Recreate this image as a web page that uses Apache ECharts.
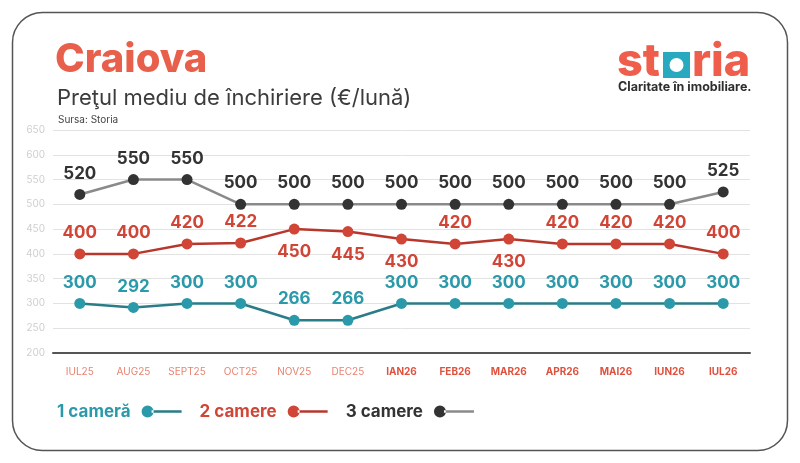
<!DOCTYPE html>
<html><head><meta charset="utf-8">
<script src="https://cdn.jsdelivr.net/npm/echarts@6/dist/echarts.min.js"></script>
<style>html,body{margin:0;padding:0;background:#fff}#c{width:800px;height:463px}</style>
</head><body><div id="c"></div>
<script>
const categories = ['IUL25','AUG25','SEPT25','OCT25','NOV25','DEC25','IAN26','FEB26','MAR26','APR26','MAI26','IUN26','IUL26'];
const cam1 = [300,292,300,300,266,266,300,300,300,300,300,300,300];
const cam2 = [400,400,420,422,450,445,430,420,430,420,420,420,400];
const cam3 = [520,550,550,500,500,500,500,500,500,500,500,500,525];
const seriesNames = ['1 cameră','2 camere','3 camere'];
const yTicks = [200,250,300,350,400,450,500,550,600,650];

const FONT = 'Inter, "Open Sans", sans-serif';
const below2 = new Set([4,5,6,8]);
const chart = echarts.init(document.getElementById('c'));
function grad(a,b){return {type:'linear',x:0,y:0,x2:1,y2:0,colorStops:[{offset:0,color:a},{offset:0.3,color:a},{offset:0.3,color:b},{offset:1,color:b}]};}
const icon = 'path://M0,6A6,6 0 1,0 12,6A6,6 0 1,0 0,6Z M10,4.8L40,4.8L40,7.2L10,7.2Z';
function lbl(color){return {show:true,position:'top',distance:7,color:color,fontFamily:FONT,fontWeight:700,fontSize:17};}
chart.setOption({
  animation:false,
  title:[
    {text:'Craiova',left:50,top:35,textStyle:{color:'#e8604c',fontFamily:FONT,fontWeight:800,fontSize:40}},
    {text:'Preţul mediu de închiriere (€/lună)',left:52,top:82,textStyle:{color:'#3c3c3c',fontFamily:FONT,fontWeight:400,fontSize:22}},
    {text:'Sursa: Storia',left:53,top:110,textStyle:{color:'#444',fontFamily:FONT,fontWeight:400,fontSize:10}}
  ],
  graphic:[
    {type:'rect',shape:{x:12.5,y:12.5,width:775,height:438,r:30},style:{fill:'none',stroke:'#555',lineWidth:1.5},silent:true},
    {type:'text',left:617,top:40,style:{text:'st',fill:'#ef5d4b',font:'800 45px '+FONT}},
    {type:'rect',shape:{x:663,y:52,width:27,height:26},style:{fill:'#29a9bf'}},
    {type:'circle',shape:{cx:676.5,cy:65,r:7},style:{fill:'#fff'}},
    {type:'text',left:692,top:40,style:{text:'ria',fill:'#ef5d4b',font:'800 45px '+FONT}},
    {type:'text',left:618,top:81,style:{text:'Claritate în imobiliare.',fill:'#2e2e2e',font:'700 12.5px '+FONT}}
  ],
  legend:{
    left:52,top:398,align:'right',itemWidth:40,itemHeight:12,itemGap:18,icon:icon,
    textStyle:{fontFamily:FONT,fontWeight:700,fontSize:17,padding:[0,6,0,0]},
    data:[
      {name:seriesNames[0],itemStyle:{color:grad('#2a9aaa','#2a7c87')},textStyle:{color:'#2a9aaa'}},
      {name:seriesNames[1],itemStyle:{color:grad('#d04535','#b8372c')},textStyle:{color:'#d04535'}},
      {name:seriesNames[2],itemStyle:{color:grad('#333333','#8a8a8a')},textStyle:{color:'#333'}}
    ]
  },
  grid:{left:53,right:50,top:130,bottom:110},
  xAxis:{type:'category',data:categories,boundaryGap:true,
    axisLine:{lineStyle:{color:'#555',width:2}},axisTick:{show:false},
    axisLabel:{margin:14,interval:0,fontFamily:FONT,fontSize:10,
      formatter:(v,i)=> i<6 ? '{a|'+v+'}' : '{b|'+v+'}',
      rich:{a:{color:'#e9826f',fontWeight:400,fontSize:10,fontFamily:FONT},b:{color:'#e0513d',fontWeight:700,fontSize:10,fontFamily:FONT}}}},
  yAxis:{type:'value',min:yTicks[0],max:yTicks[yTicks.length-1],interval:50,
    axisLabel:{color:'#cfcfcf',fontSize:10,fontFamily:FONT,margin:8},
    axisLine:{show:false},axisTick:{show:false},
    splitLine:{lineStyle:{color:'#e2e2e2',width:1}}},
  series:[
    {name:seriesNames[0],type:'line',data:cam1,symbol:'circle',symbolSize:11,
      itemStyle:{color:'#2a9aaa'},lineStyle:{color:'#2a7c87',width:2.5},label:lbl('#2a9aaa')},
    {name:seriesNames[1],type:'line',symbol:'circle',symbolSize:11,
      data:cam2.map((v,i)=> below2.has(i) ? {value:v,label:{position:'bottom',distance:9}} : v),
      itemStyle:{color:'#d04535'},lineStyle:{color:'#b8372c',width:2.5},label:lbl('#d04535')},
    {name:seriesNames[2],type:'line',data:cam3,symbol:'circle',symbolSize:11,
      itemStyle:{color:'#333'},lineStyle:{color:'#8a8a8a',width:2.5},label:lbl('#333')}
  ]
});
</script></body></html>
